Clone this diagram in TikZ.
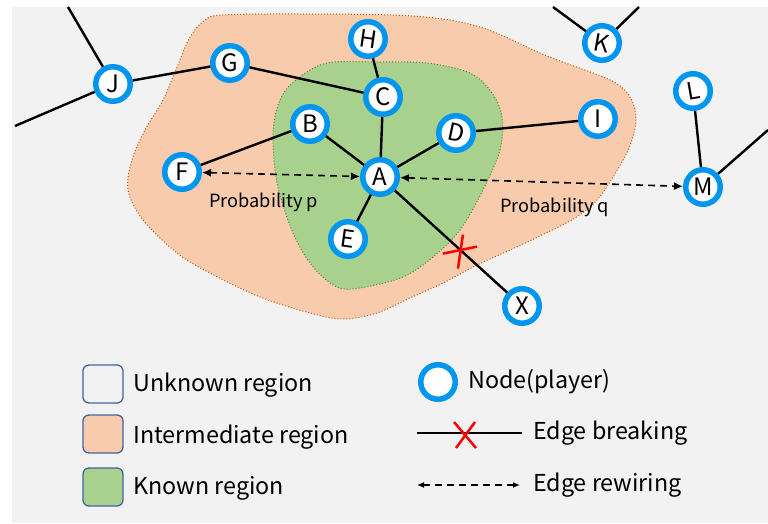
\documentclass[tikz,border=0pt]{standalone}
\usepackage{fontspec}
\setmainfont{Noto Sans CJK KR}
\usetikzlibrary{arrows.meta,calc}
\definecolor{bg}{RGB}{242,242,242}
\definecolor{ring}{RGB}{0,150,240}
\definecolor{orfill}{RGB}{248,203,173}
\definecolor{orline}{RGB}{197,90,17}
\definecolor{grfill}{RGB}{169,209,142}
\definecolor{grline}{RGB}{84,130,53}
\definecolor{legline}{RGB}{68,100,160}
\begin{document}
\begin{tikzpicture}[x=1pt,y=-1pt,
  player/.style={circle,draw=ring,line width=5.5pt,fill=white,minimum size=34.5pt,inner sep=0pt,font=\fontsize{24}{24}\selectfont},
  edge/.style={line width=2.4pt,black},
  rewire/.style={line width=1.6pt,dash pattern=on 7pt off 5pt,{Latex[length=9pt,width=8pt]}-{Latex[length=9pt,width=8pt]}},
  cross/.style={red,line width=2.5pt},
  legbox/.style={draw=legline,line width=1.3pt,rounded corners=6pt,minimum width=40pt,minimum height=38pt,inner sep=0pt},
  legtext/.style={anchor=west,inner sep=0pt,font=\fontsize{23.3}{24}\selectfont},
  prob/.style={anchor=west,inner sep=0pt,font=\fontsize{18.2}{19}\selectfont}
]
\useasboundingbox (0,0) rectangle (768,523);
\fill[white] (0,0) rectangle (768,523);
\fill[bg] (12,7) rectangle (768,523);

% intermediate region
\draw[fill=orfill,draw=orline,line width=1pt,dotted] plot[smooth cycle,tension=0.55] coordinates {
 (223,15) (300,14) (413,16) (480,27) (547,56) (610,80) (630,97) (636,120) (629,148) (613,177) (597,200) (575,218) (540,236) (510,250)
 (477,265) (443,283) (410,298) (377,313) (343,319) (310,313) (260,297) (210,273) (177,253) (143,220) (128,190) (132,160) (145,130) (163,100) (177,67) (190,37) (205,20)};
% known region
\draw[fill=grfill,draw=grline,line width=1pt,dotted] plot[smooth cycle,tension=0.55] coordinates {
 (327,63) (380,62) (427,63) (470,73) (492,93) (502,117) (500,150) (483,190) (460,230) (433,257) (403,277) (360,288) (337,287) (313,267) (293,233) (277,183) (273,133) (280,100) (296,80)};

% free ends
\coordinate (j1) at (68,7);
\coordinate (j2) at (15,126);
\coordinate (k1) at (553,7);
\coordinate (k2) at (639,7);
\coordinate (m1) at (768,130);

% nodes
\node[player] (J) at (113,84) {J};
\node[player] (G) at (230,63) {G};
\node[player] (H) at (368,39) {\rotatebox{-8}{H}};
\node[player] (C) at (383,97) {C};
\node[player] (B) at (310,124) {B};
\node[player] (F) at (182,172) {F};
\node[player] (A) at (380,177) {A};
\node[player] (E) at (348,239) {\rotatebox{-8}{E}};
\node[player] (D) at (456,133) {\rotatebox{-12}{D}};
\node[player] (I) at (598,119) {I};
\node[player] (K) at (602,43) {\rotatebox{-10}{K}};
\node[player] (L) at (693,91) {\rotatebox{10}{L}};
\node[player] (M) at (703,187) {M};
\node[player] (X) at (522,306) {X};

% edges
\draw[edge] (j1) -- (J);
\draw[edge] (J) -- (j2);
\draw[edge] (J) -- (G);
\draw[edge] (G) -- (C);
\draw[edge] (H) -- (C);
\draw[edge] (C) -- (A);
\draw[edge] (B) -- (A);
\draw[edge] (B) -- (F);
\draw[edge] (D) -- (A);
\draw[edge] (D) -- (I);
\draw[edge] (E) -- (A);
\draw[edge] (A) -- (X);
\draw[edge] (k1) -- (K);
\draw[edge] (K) -- (k2);
\draw[edge] (L) -- (M);
\draw[edge] (M) -- (m1);

% rewiring
\draw[rewire] (F) -- (A);
\draw[rewire] (A) -- (M);
\node[prob] (pp) at (209,202) {Probability p};
\node[prob] (pq) at (500,207) {Probability q};

% breaking mark
\coordinate (cut) at ($(A)!0.563!(X)$);
\draw[cross] ($(cut)+(-17,4)$) -- ($(cut)+(17,-3)$);
\draw[cross] ($(cut)+(3,-15)$) -- ($(cut)+(-2,19)$);

% legend
\node[legbox,fill=bg] (l1) at (103,384) {};
\node[legbox,fill=orfill] (l2) at (103,434) {};
\node[legbox,fill=grfill] (l3) at (103,487) {};
\node[legtext] (t1) at (133,385) {Unknown region};
\node[legtext] (t2) at (133,437) {Intermediate region};
\node[legtext] (t3) at (133,488) {Known region};

\node[player] (lp) at (438,382) {};
\node[legtext] (t4) at (468,382) {Node(player)};
\coordinate (lb1) at (417,433);
\coordinate (lb2) at (522,433);
\draw[edge] (lb1) -- (lb2);
\coordinate (lbx) at (465,435);
\draw[cross] ($(lbx)+(-11,-13)$) -- ($(lbx)+(11,13)$);
\draw[cross] ($(lbx)+(10,-13)$) -- ($(lbx)+(-9,13)$);
\node[legtext] (t5) at (533,433) {Edge breaking};
\coordinate (lr1) at (417,485);
\coordinate (lr2) at (520,485);
\draw[line width=1.6pt,dash pattern=on 7pt off 5pt,{Latex[length=7pt,width=6pt]}-{Latex[length=7pt,width=6pt]}] (lr1) -- (lr2);
\node[legtext] (t6) at (533,485) {Edge rewiring};
\end{tikzpicture}
\end{document}
